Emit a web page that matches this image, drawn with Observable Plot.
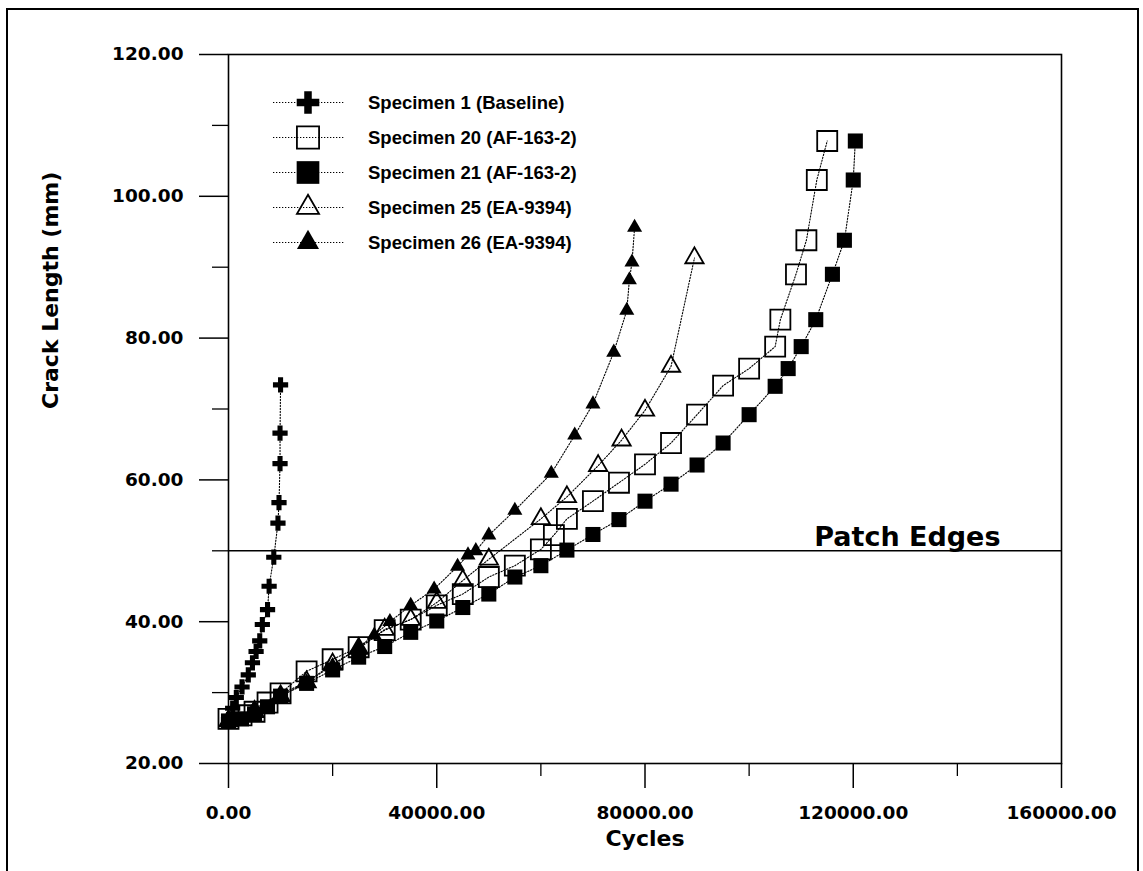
<!DOCTYPE html>
<html>
<head>
<meta charset="utf-8">
<script src="https://cdn.jsdelivr.net/npm/d3@7"></script>
<script src="https://cdn.jsdelivr.net/npm/@observablehq/plot@0.6"></script>
<style>
  html, body { margin: 0; padding: 0; background: white; }
  #wrap { position: relative; width: 1143px; height: 871px; overflow: hidden; }
  #border { position: absolute; left: 6px; top: 8px; width: 1133px; height: 900px; border: 2.5px solid black; box-sizing: border-box; pointer-events: none; }
  #chart { position: absolute; left: 0; top: 0; }
</style>
</head>
<body>
<div id="wrap"><div id="chart"></div><div id="border"></div></div>
<script>
// ---- data ----
const seriesNames = [
  "Specimen 1 (Baseline)",
  "Specimen 20 (AF-163-2)",
  "Specimen 21 (AF-163-2)",
  "Specimen 25 (EA-9394)",
  "Specimen 26 (EA-9394)"
];

const spec1Cycles = [0, 800, 1500, 2600, 3800, 4600, 5300, 6000, 6500, 7500, 7800, 8700, 9500, 9700, 9900, 9900, 10000];
const spec1Crack  = [26.2, 27.8, 29.3, 30.8, 32.5, 34.2, 35.8, 37.3, 39.6, 41.7, 45.0, 49.1, 53.9, 56.8, 62.3, 66.6, 73.4];

const spec20Cycles = [0, 2500, 5000, 7500, 10000, 15000, 20000, 25000, 30000, 35000, 40000, 45000, 50000, 55000, 60000, 62500, 65000, 70000, 75000, 80000, 85000, 90000, 95000, 100000, 105000, 106000, 109000, 111000, 113000, 115000];
const spec20Crack  = [26.3, 26.8, 27.3, 28.6, 29.9, 33.0, 34.7, 36.4, 38.8, 40.3, 42.3, 43.9, 46.3, 47.9, 50.2, 52.2, 54.5, 57.0, 59.6, 62.2, 65.2, 69.2, 73.3, 75.7, 78.8, 82.6, 89.0, 93.8, 102.3, 107.8];

const spec21Cycles = [0, 2500, 5000, 7500, 10000, 15000, 20000, 25000, 30000, 35000, 40000, 45000, 50000, 55000, 60000, 65000, 70000, 75000, 80000, 85000, 90000, 95000, 100000, 105000, 107500, 110000, 112800, 116000, 118300, 120000, 120400];
const spec21Crack  = [26.0, 26.3, 27.0, 28.0, 29.5, 31.3, 33.2, 35.0, 36.5, 38.5, 40.1, 42.0, 43.9, 46.3, 47.9, 50.1, 52.3, 54.4, 57.0, 59.4, 62.1, 65.2, 69.2, 73.2, 75.7, 78.8, 82.6, 89.0, 93.8, 102.3, 107.8];

const spec25Cycles = [0, 5000, 10000, 15000, 20000, 25000, 30000, 35000, 40000, 45000, 50000, 60000, 65000, 71000, 75500, 80000, 85000, 89500];
const spec25Crack  = [26.0, 27.3, 29.5, 31.5, 34.0, 36.2, 38.9, 40.3, 42.7, 45.8, 48.8, 54.5, 57.6, 62.0, 65.6, 69.8, 76.0, 91.3];

const spec26Cycles = [0, 5000, 10000, 15000, 20000, 25000, 28000, 31000, 35000, 39500, 44000, 46000, 47500, 50000, 55000, 62000, 66500, 70000, 74000, 76500, 77000, 77500, 78000];
const spec26Crack  = [26.0, 27.8, 29.8, 31.5, 33.8, 36.4, 38.1, 40.0, 42.3, 44.6, 47.8, 49.4, 50.0, 52.2, 55.7, 60.9, 66.3, 70.7, 78.0, 83.9, 88.2, 90.7, 95.6];

const patchEdge = [50];
const patchLabel = ["Patch Edges"];

const xMajorTicks = [0, 40000, 80000, 120000, 160000];
const xMinorTicks = [20000, 60000, 100000, 140000];
const yMajorTicks = [20, 40, 60, 80, 100, 120];
const yMinorTicks = [30, 50, 70, 90, 110];

const xTitle = "Cycles";
const yTitle = "Crack Length (mm)";

// ---- build table ----
const allCycles = [spec1Cycles, spec20Cycles, spec21Cycles, spec25Cycles, spec26Cycles];
const allCrack  = [spec1Crack, spec20Crack, spec21Crack, spec25Crack, spec26Crack];
const table = [];
seriesNames.forEach((s, i) => {
  allCycles[i].forEach((c, j) => table.push({series: s, cycles: c, crack: allCrack[i][j]}));
});
const bySeries = s => table.filter(d => d.series === s);

const fmt2 = d => d.toFixed(2);

const chart = Plot.plot({
  width: 1143,
  height: 871,
  marginLeft: 228,
  marginRight: 82,
  marginTop: 54,
  marginBottom: 108,
  style: {fontFamily: "DejaVu Sans", fontWeight: "bold", color: "black", background: "white", overflow: "visible"},
  x: {domain: [0, 160000]},
  y: {domain: [20, 120]},
  marks: [
    Plot.frame({stroke: "black", strokeWidth: 1.6}),
    Plot.axisX(xMajorTicks, {tickSize: 25, tickPadding: 17, tickFormat: fmt2, fontSize: 18.5, label: null, strokeWidth: 1.5}),
    Plot.axisX(xMinorTicks, {tickSize: 13, tickFormat: () => "", label: null, strokeWidth: 1.3}),
    Plot.axisY(yMajorTicks, {tickSize: 29, tickPadding: 16, tickFormat: fmt2, fontSize: 18.5, label: null, strokeWidth: 1.5}),
    Plot.axisY(yMinorTicks, {tickSize: 16, tickFormat: () => "", label: null, strokeWidth: 1.3}),
    Plot.text([xTitle], {text: d => d, frameAnchor: "bottom", dy: 82, fontSize: 22, fontWeight: "bold"}),
    Plot.text([yTitle], {text: d => d, frameAnchor: "left", dx: -178, rotate: -90, fontSize: 22, fontWeight: "bold"}),
    Plot.ruleY(patchEdge, {stroke: "black", strokeWidth: 1.6}),
    Plot.text(patchLabel, {y: () => patchEdge[0], text: d => d, frameAnchor: "right", textAnchor: "end", lineAnchor: "bottom", dx: -61, dy: -5, fontSize: 27, fontWeight: "bold"}),
    Plot.line(table, {x: "cycles", y: "crack", z: "series", stroke: "black", strokeWidth: 1.1, strokeDasharray: "1.3,1.7"}),
    Plot.dot(bySeries(seriesNames[3]), {x: "cycles", y: "crack", symbol: "triangle", r: 6.8, fill: "none", stroke: "black", strokeWidth: 1.8}),
    Plot.dot(bySeries(seriesNames[1]), {x: "cycles", y: "crack", symbol: "square", r: 11.3, fill: "none", stroke: "black", strokeWidth: 1.8}),
    Plot.dot(bySeries(seriesNames[2]), {x: "cycles", y: "crack", symbol: "square", r: 8.5, fill: "black", stroke: "none"}),
    Plot.dot(bySeries(seriesNames[4]), {x: "cycles", y: "crack", symbol: "triangle", r: 5.6, fill: "black", stroke: "none"}),
    Plot.dot(bySeries(seriesNames[0]), {x: "cycles", y: "crack", symbol: "cross", r: 6.4, fill: "black", stroke: "none"})
  ]
});
document.getElementById("chart").appendChild(chart);

// ---- legend (inside the plot area) ----
const svg = d3.select(chart);
const legendSymbols = [
  {type: d3.symbolCross, r: 9.5, fill: "black", stroke: "none"},
  {type: d3.symbolSquare, r: 12.5, fill: "none", stroke: "black"},
  {type: d3.symbolSquare, r: 12.8, fill: "black", stroke: "none"},
  {type: d3.symbolTriangle, r: 8.2, fill: "none", stroke: "black"},
  {type: d3.symbolTriangle, r: 8.2, fill: "black", stroke: "none"}
];
const lg = svg.append("g").attr("class", "legend").attr("text-anchor", "start");
seriesNames.forEach((name, i) => {
  const cy = 102.5 + i * 35;
  lg.append("line").attr("x1", 273).attr("x2", 345).attr("y1", cy).attr("y2", cy)
    .attr("stroke", "black").attr("stroke-width", 1.1).attr("stroke-dasharray", "1.3,1.7");
  const s = legendSymbols[i];
  lg.append("path").attr("transform", `translate(308,${cy})`)
    .attr("d", d3.symbol(s.type, s.r * s.r * Math.PI)())
    .attr("fill", s.fill).attr("stroke", s.stroke).attr("stroke-width", 1.8);
  lg.append("text").attr("x", 368).attr("y", cy).attr("dy", "0.36em")
    .attr("text-anchor", "start")
    .attr("font-family", "Liberation Sans, Arial, sans-serif").attr("font-weight", "bold")
    .attr("font-size", 18.5).attr("fill", "black").text(name);
});
</script>
</body>
</html>
